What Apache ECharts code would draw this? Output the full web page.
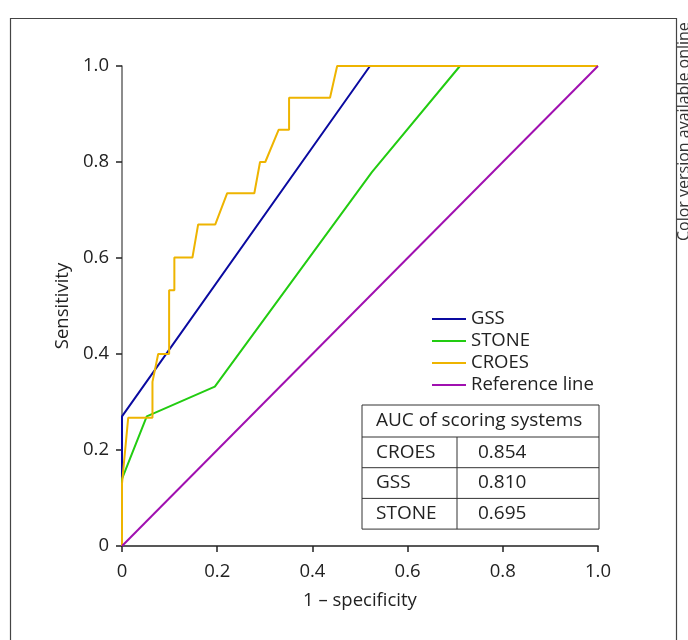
<!DOCTYPE html>
<html>
<head>
<meta charset="utf-8">
<script src="https://cdn.jsdelivr.net/npm/echarts@6/dist/echarts.min.js"></script>
<style>
  html, body { margin: 0; padding: 0; background: #fff; }
  #chart { width: 688px; height: 640px; }
</style>
</head>
<body>
<div id="chart"></div>
<script>
// ROC points, [1 - specificity, sensitivity]
const gssPoints = [[0, 0], [0, 0.27], [0.521, 1.0], [1, 1]];
const stonePoints = [[0, 0], [0, 0.14], [0.052, 0.27], [0.195, 0.332], [0.525, 0.779], [0.71, 1.0], [1, 1]];
const croesPoints = [
  [0, 0], [0, 0.13], [0.013, 0.267], [0.064, 0.267], [0.064, 0.342], [0.076, 0.4],
  [0.099, 0.4], [0.099, 0.533], [0.11, 0.533], [0.11, 0.601], [0.148, 0.601],
  [0.16, 0.67], [0.196, 0.67], [0.221, 0.735], [0.278, 0.735], [0.29, 0.8],
  [0.301, 0.8], [0.329, 0.867], [0.351, 0.867], [0.351, 0.934], [0.437, 0.934],
  [0.452, 1.0], [1, 1]
];
const refPoints = [[0, 0], [1, 1]];

const seriesNames = ['GSS', 'STONE', 'CROES', 'Reference line'];
const seriesColors = ['#0a0aa0', '#22cc11', '#eeb400', '#a010b0'];

const tableTitle = 'AUC of scoring systems';
const tableRows = [['CROES', '0.854'], ['GSS', '0.810'], ['STONE', '0.695']];

const font = '"Open Sans", "Noto Sans", sans-serif';
const fs = 18.5;
const chart = echarts.init(document.getElementById('chart'));

// table drawn as graphic: header row + data rows
const tx = 362, ty = 405, tw = 237, headH = 32, rowH = 30.7, colX = 457;
const tableEls = [];
tableEls.push({ type: 'rect', shape: { x: tx, y: ty, width: tw, height: headH + rowH * tableRows.length },
  style: { fill: '#fff', stroke: '#333', lineWidth: 1 } });
tableEls.push({ type: 'text', x: tx + 14, y: ty + headH / 2,
  style: { text: tableTitle, font: '19px ' + font, fill: '#222', textVerticalAlign: 'middle' } });
tableRows.forEach((r, i) => {
  const y0 = ty + headH + rowH * i;
  tableEls.push({ type: 'line', shape: { x1: tx, y1: y0, x2: tx + tw, y2: y0 }, style: { stroke: '#333', lineWidth: 1 } });
  tableEls.push({ type: 'text', x: tx + 14, y: y0 + rowH / 2,
    style: { text: r[0], font: '19px ' + font, fill: '#222', textVerticalAlign: 'middle' } });
  tableEls.push({ type: 'text', x: colX + 21, y: y0 + rowH / 2,
    style: { text: r[1], font: '19px ' + font, fill: '#222', textVerticalAlign: 'middle' } });
});
tableEls.push({ type: 'line', shape: { x1: colX, y1: ty + headH, x2: colX, y2: ty + headH + rowH * tableRows.length },
  style: { stroke: '#333', lineWidth: 1 } });

const option = {
  animation: false,
  grid: { left: 122, top: 66, right: 90, bottom: 94 },
  legend: {
    orient: 'vertical',
    left: 427,
    top: 303,
    itemWidth: 34,
    itemHeight: 2,
    itemGap: 0,
    icon: 'rect',
    data: seriesNames,
    textStyle: { fontSize: fs, fontFamily: font, color: '#222', lineHeight: 22, padding: [0, 0, 0, 0] }
  },
  xAxis: {
    type: 'value', min: 0, max: 1, interval: 0.2,
    name: '1 – specificity', nameLocation: 'middle', nameGap: 45,
    nameTextStyle: { fontSize: fs, fontFamily: font, color: '#222' },
    axisLine: { lineStyle: { color: '#222', width: 1.5 } },
    axisTick: { length: 6, lineStyle: { color: '#222', width: 1.5 } },
    axisLabel: { fontSize: fs, fontFamily: font, color: '#222', margin: 16,
      formatter: v => v === 0 ? '0' : v.toFixed(1) },
    splitLine: { show: false }
  },
  yAxis: {
    type: 'value', min: 0, max: 1, interval: 0.2,
    name: 'Sensitivity', nameLocation: 'middle', nameGap: 49,
    nameTextStyle: { fontSize: fs, fontFamily: font, color: '#222' },
    axisLine: { show: true, lineStyle: { color: '#666', width: 1.5 } },
    axisTick: { show: true, length: 6, lineStyle: { color: '#222', width: 1.5 } },
    axisLabel: { fontSize: fs, fontFamily: font, color: '#222', margin: 13,
      formatter: v => v === 0 ? '0' : v.toFixed(1) },
    splitLine: { show: false }
  },
  series: [gssPoints, stonePoints, croesPoints, refPoints].map((pts, i) => ({
    name: seriesNames[i],
    type: 'line',
    data: pts,
    symbol: 'none',
    color: seriesColors[i],
    lineStyle: { width: 2, color: seriesColors[i] }
  })),
  graphic: [
    { type: 'rect', shape: { x: 10.5, y: 18.5, width: 666, height: 700 },
      style: { fill: 'none', stroke: '#444', lineWidth: 1.2 }, silent: true },
    { type: 'text', x: 676, y: 241, rotation: Math.PI / 2,
      style: { text: 'Color version available online', font: '16px ' + font, fill: '#333',
        textAlign: 'left', textVerticalAlign: 'top' } },
    ...tableEls
  ]
};
chart.setOption(option);
</script>
</body>
</html>
